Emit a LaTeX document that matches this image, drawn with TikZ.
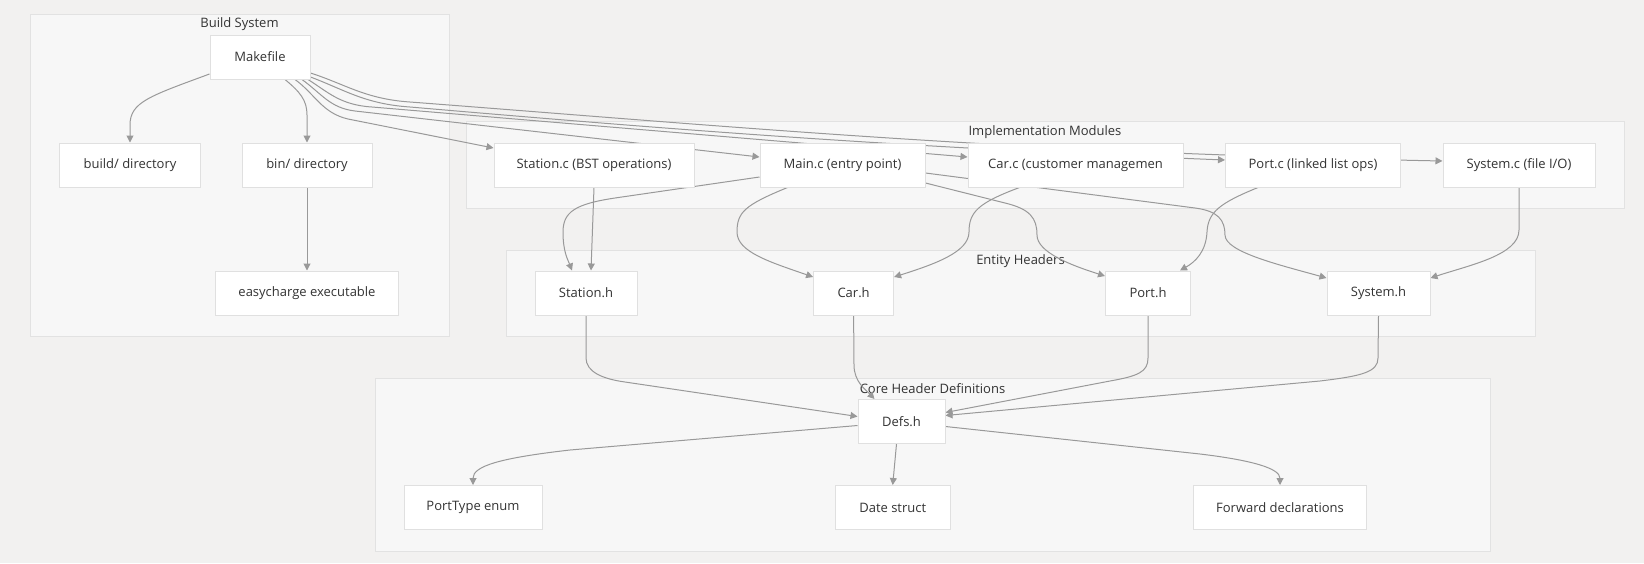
\documentclass[tikz,border=0pt]{standalone}
\usepackage{fontspec}
\setmainfont{Open Sans}
\usetikzlibrary{arrows.meta}
\definecolor{bgc}{HTML}{F2F1F0}
\definecolor{clfill}{HTML}{F7F7F7}
\definecolor{clline}{HTML}{E2E2E2}
\definecolor{boxline}{HTML}{E0E0E0}
\definecolor{edgec}{HTML}{999999}
\definecolor{txt}{HTML}{333333}
\pgfdeclarelayer{clusters}
\pgfdeclarelayer{edges}
\pgfsetlayers{clusters,edges,main}
\tikzset{every node/.style={rectangle,draw=none,inner sep=0pt,text=txt,font=\fontsize{13}{15}\selectfont}}
\tikzset{box/.style={fill=white,draw=boxline,line width=1pt,minimum height=44pt}}
\tikzset{cl/.style={fill=clfill,draw=clline,line width=1pt}}
\tikzset{ln/.style={draw=edgec,line width=1pt,-{Triangle[length=7pt,width=7pt]}}}

\begin{document}
\begin{tikzpicture}[x=1pt,y=-1pt]
      \node[box,minimum width=100pt] (make) at (260,57) {Makefile};
      \node[box,minimum width=141pt] (builddir) at (130,165) {build/ directory};
      \node[box,minimum width=130pt] (bindir) at (307,165) {bin/ directory};
      \node[box,minimum width=183pt] (exe) at (307,293) {easycharge executable};
      \node[box,minimum width=200pt] (stc) at (594,165) {Station.c (BST operations)};
      \node[box,minimum width=165pt] (mainc) at (842.5,165) {Main.c (entry point)};
      \node[box,minimum width=215pt] (carc) at (1075.5,165) {Car.c (customer managemen};
      \node[box,minimum width=175pt] (portc) at (1313,165) {Port.c (linked list ops)};
      \node[box,minimum width=152pt] (sysc) at (1519,165) {System.c (file I/O)};
      \node[box,minimum width=102pt] (sth) at (586,293) {Station.h};
      \node[box,minimum width=80pt] (carh) at (853.6,293) {Car.h};
      \node[box,minimum width=85pt] (porth) at (1148,293) {Port.h};
      \node[box,minimum width=103pt] (sysh) at (1378.5,293) {System.h};
      \node[box,minimum width=87pt] (defs) at (901.5,421.5) {Defs.h};
      \node[box,minimum width=138pt] (ptype) at (473,507.5) {PortType enum};
      \node[box,minimum width=115pt] (date) at (892.7,507.5) {Date struct};
      \node[box,minimum width=173pt] (fwd) at (1280,507.5) {Forward declarations};
    \begin{pgfonlayer}{clusters}
      \fill[bgc] (0,0) rectangle (1644,563);
      \draw[cl] (30,14) rectangle (449,336);
      \node (tbuild) at (239.5,24) {Build System};
      \draw[cl] (466,121) rectangle (1624,208);
      \node (timpl) at (1045,132) {Implementation Modules};
      \draw[cl] (506,250) rectangle (1535,336);
      \node (tent) at (1020.5,261) {Entity Headers};
      \draw[cl] (375,378) rectangle (1490,551);
      \node (tcore) at (932.5,389) {Core Header Definitions};
    \end{pgfonlayer}
    \begin{pgfonlayer}{edges}
        \draw[ln] ([yshift=-17pt]make.west) .. controls (150,96) and (130,102) .. (130,125) -- (builddir.north);
        \draw[ln] ([xshift=25pt]make.south) .. controls (300,92) and (307,100) .. (307,115) -- (bindir.north);
        \draw[ln] (bindir) -- (exe);
        \draw[ln] ([xshift=35pt]make.south) .. controls (315,94) and (322,113) .. (348,119) -- ([yshift=17pt]stc.west);
        \draw[ln] ([xshift=42pt]make.south) .. controls (322,94) and (330,108) .. (355,111) -- ([yshift=8pt]mainc.west);
        \draw[ln] ([xshift=48pt]make.south) .. controls (328,92) and (340,105) .. (372,107) -- ([yshift=8pt]carc.west);
        \draw[ln] ([yshift=-20pt]make.east) .. controls (345,90) and (365,104) .. (410,107) .. controls (700,132) and (900,147) .. ([yshift=5pt]portc.west);
        \draw[ln] ([yshift=-16pt]make.east) .. controls (345,84) and (365,99) .. (410,102) .. controls (750,128) and (1000,152) .. ([yshift=4pt]sysc.west);
        \draw[ln] (stc.south) -- ([xshift=5pt]sth.north);
        \draw[ln] ([yshift=-12pt]mainc.west) -- (615,198) .. controls (575,204) and (563,212) .. (563,232) .. controls (563,252) and (568,260) .. ([xshift=-14pt]sth.north);
        \draw[ln] ([xshift=-55pt]mainc.south) .. controls (745,205) and (737,212) .. (737,232) .. controls (737,252) and (770,262) .. ([yshift=16pt]carh.west);
        \draw[ln] ([xshift=-56pt]carc.south) .. controls (978,203) and (969,212) .. (969,232) .. controls (969,252) and (935,264) .. ([yshift=16pt]carh.east);
        \draw[ln] ([yshift=-18pt]mainc.east) -- (1005,203) .. controls (1030,209) and (1037,218) .. (1037,235) .. controls (1037,252) and (1070,265) .. ([yshift=17pt]porth.west);
        \draw[ln] ([yshift=-8pt]mainc.east) -- (1195,208) .. controls (1218,211) and (1225,220) .. (1225,235) .. controls (1225,252) and (1280,265) .. ([yshift=15pt]sysh.west);
        \draw[ln] ([xshift=-55pt]portc.south) .. controls (1220,203) and (1208,212) .. (1207,232) .. controls (1206,252) and (1195,262) .. ([xshift=32pt]porth.north);
        \draw[ln] (sysc.south) -- (1519,230) .. controls (1519,255) and (1470,265) .. ([yshift=15pt]sysh.east);
        \draw[ln] (sth.south) -- (586,358) .. controls (586,372) and (603,379) .. (625,382) -- ([yshift=5pt]defs.west);
        \draw[ln] (carh.south) -- (854,365) .. controls (854,382) and (866,390) .. ([xshift=-27pt]defs.north);
        \draw[ln] (porth.south) -- (1148,358) .. controls (1148,372) and (1138,376) .. (1110,381) -- ([yshift=9pt]defs.east);
        \draw[ln] (sysh.south) -- (1378,358) .. controls (1378,372) and (1362,376) .. (1320,381) -- ([yshift=6pt]defs.east);
        \draw[ln] ([yshift=-4pt]defs.west) -- (570,450) .. controls (500,458) and (473,466) .. (ptype.north);
        \draw[ln] ([xshift=-5pt]defs.south) -- (date.north);
        \draw[ln] ([yshift=-5pt]defs.east) -- (1200,454) .. controls (1250,460) and (1280,468) .. (fwd.north);
    \end{pgfonlayer}
    \end{tikzpicture}
\end{document}
